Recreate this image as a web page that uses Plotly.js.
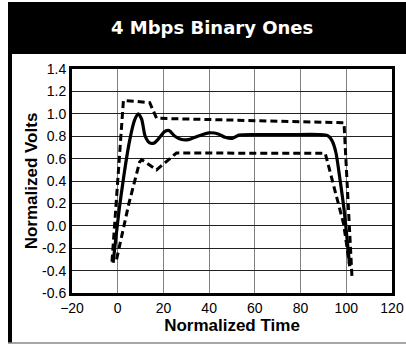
<!DOCTYPE html>
<html><head><meta charset="utf-8">
<script src="https://cdn.plot.ly/plotly-3.0.1.min.js"></script>
<style>html,body{margin:0;padding:0;background:#fff;}#chart{width:406px;height:346px;}</style>
</head><body><div id="chart"></div>
<script>
const chartTitle = "4 Mbps Binary Ones";
const xTitle = "Normalized Time";
const yTitle = "Normalized Volts";
const xTickVals = [-20, 0, 20, 40, 60, 80, 100, 120];
const yTickVals = [-0.6, -0.4, -0.2, 0.0, 0.2, 0.4, 0.6, 0.8, 1.0, 1.2, 1.4];
const yTickText = ["-0.6","-0.4","-0.2","0.0","0.2","0.4","0.6","0.8","1.0","1.2","1.4"];

const signalX = [-2, 1, 5.3, 7.5, 9, 10.5, 12, 14, 16, 18, 20.5, 22.5, 25, 28, 31, 35, 40, 44, 47, 50, 53, 60, 75, 88, 91, 92.5, 94, 95.5, 97, 99, 101.5];
const signalY = [-0.33, 0.2, 0.77, 0.95, 1.0, 0.95, 0.8, 0.74, 0.74, 0.78, 0.84, 0.85, 0.8, 0.77, 0.77, 0.8, 0.83, 0.82, 0.79, 0.78, 0.81, 0.815, 0.815, 0.815, 0.81, 0.795, 0.75, 0.65, 0.45, 0.15, -0.36];

const upperX = [-2.5, 2.5, 14, 17, 99, 102.5];
const upperY = [-0.32, 1.12, 1.1, 0.96, 0.92, -0.46];

const lowerX = [-0.5, 1.6, 4.9, 9.6, 10.5, 17, 25.7, 90.8, 98.8, 101.5];
const lowerY = [-0.3, -0.11, 0.2, 0.57, 0.59, 0.5, 0.65, 0.647, 0.02, -0.36];

const traces = [
  {x: upperX, y: upperY, mode: 'lines', line: {color: '#000', width: 3, dash: '7px,4px'}, hoverinfo: 'skip'},
  {x: lowerX, y: lowerY, mode: 'lines', line: {color: '#000', width: 3, dash: '7px,4px'}, hoverinfo: 'skip'},
  {x: signalX, y: signalY, mode: 'lines', line: {color: '#000', width: 3.2, shape: 'spline', smoothing: 0.7}, hoverinfo: 'skip'}
];

const W = 320, H = 224, L = 72, T = 69;
function px(p){ return (p - L) / W; }
function py(p){ return (T + H - p) / H; }

const layout = {
  width: 406, height: 346,
  margin: {l: 72, r: 14, t: 69, b: 53, pad: 0},
  paper_bgcolor: '#fff', plot_bgcolor: '#fff',
  showlegend: false,
  font: {family: 'Liberation Sans, Arial, sans-serif', color: '#000', size: 14},
  xaxis: {
    range: [-20, 120], tickvals: xTickVals, ticks: '', showgrid: true, gridcolor: '#808080', gridwidth: 1,
    zeroline: false, showline: true, mirror: true, linecolor: '#000', linewidth: 3,
    tickfont: {size: 14, family: 'Liberation Sans, Arial, sans-serif'},
    title: {text: xTitle, font: {size: 17, family: 'Liberation Sans, Arial, sans-serif', weight: 'bold'}, standoff: 5}
  },
  yaxis: {
    range: [-0.6, 1.4], tickvals: yTickVals, ticktext: yTickText, ticks: '', showgrid: true, gridcolor: '#222', gridwidth: 1,
    zeroline: false, showline: true, mirror: true, linecolor: '#000', linewidth: 3,
    tickfont: {size: 14, family: 'Liberation Sans, Arial, sans-serif'},
    title: {text: yTitle, font: {size: 17, family: 'Liberation Sans, Arial, sans-serif', weight: 'bold'}, standoff: 1}
  },
  shapes: [
    {type: 'rect', xref: 'paper', yref: 'paper', x0: px(8), x1: px(407), y0: py(54), y1: py(2), fillcolor: '#000', line: {width: 0}, layer: 'below'},
    {type: 'rect', xref: 'paper', yref: 'paper', x0: px(8), x1: px(12), y0: py(343), y1: py(54), fillcolor: '#000', line: {width: 0}, layer: 'below'},
    {type: 'line', xref: 'paper', yref: 'paper', x0: px(8), x1: px(406), y0: py(343), y1: py(343), line: {color: '#888', width: 1.5}, layer: 'below'}
  ],
  annotations: [
    {text: chartTitle, xref: 'paper', yref: 'paper', x: px(212), y: py(27), showarrow: false, xanchor: 'center', yanchor: 'middle',
     font: {family: 'DejaVu Sans, sans-serif', size: 18, color: '#fff', weight: 'bold'}}
  ]
};

Plotly.newPlot('chart', traces, layout, {displayModeBar: false, staticPlot: true});
</script>
</body></html>
